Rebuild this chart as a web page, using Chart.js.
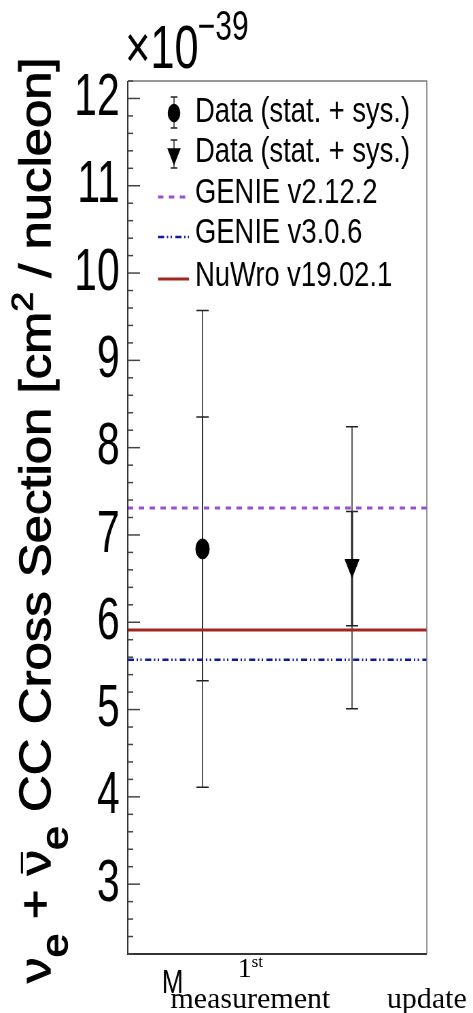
<!DOCTYPE html>
<html>
<head>
<meta charset="utf-8">
<script src="https://cdn.jsdelivr.net/npm/chart.js@4/dist/chart.umd.min.js"></script>
<style>
  html, body { margin: 0; padding: 0; background: #fff; overflow: hidden; }
  canvas { display: block; }
</style>
</head>
<body>
<canvas id="xsec" width="696" height="1013" style="width:473px;height:1013px"></canvas>
<script>
// the original plot is squeezed sideways, so draw wide and let CSS squeeze it
const K = 473 / 696;

const seriesNames = ['Data (stat. + sys.)', 'Data (stat. + sys.)', 'GENIE v2.12.2', 'GENIE v3.0.6', 'NuWro v19.02.1'];
const pointX = [0.5, 1.5];
const pointY = [6.84, 6.65];
const statHi = [8.35, 7.27];
const statLo = [5.33, 5.96];
const totHi = [9.57, 8.24];
const totLo = [4.11, 5.01];
const genieOld = 7.31;
const genieNew = 5.57;
const nuwro = 5.91;
const yRange = [2.2, 12.2];
const xRange = [0, 2];
const xLabels = ['M', '1st measurement', 'update'];
const xLabelAt = [0.3, 0.82, 2.0];

const SANS = '"Liberation Sans", Arial, sans-serif';
const SERIF = '"Liberation Serif", "Times New Roman", serif';

const flat = v => [{ x: xRange[0], y: v }, { x: xRange[1], y: v }];

function txt(ctx, s, x, y, font, sx, align) {
    ctx.save();
    ctx.font = font;
    ctx.fillStyle = '#000';
    ctx.textAlign = align || 'left';
    ctx.textBaseline = 'alphabetic';
    ctx.translate(x, y);
    ctx.scale(sx, 1);
    ctx.fillText(s, 0, 0);
    ctx.restore();
}

function errBar(ctx, x, lo, hi, half, lw) {
    ctx.lineWidth = lw;
    ctx.beginPath();
    ctx.moveTo(x, lo); ctx.lineTo(x, hi);
    ctx.stroke();
    ctx.lineWidth = 1.5;
    ctx.beginPath();
    ctx.moveTo(x - half, lo); ctx.lineTo(x + half, lo);
    ctx.moveTo(x - half, hi); ctx.lineTo(x + half, hi);
    ctx.stroke();
}

function drawTitle(ctx) {
    const parts = [
        { t: '\u03BD', k: 1, dy: 0 },
        { t: 'e', k: 0.85, dy: 0.39 },
        { t: ' + ', k: 1, dy: 0 },
        { t: '\u03BD', k: 1, dy: 0, bar: true },
        { t: 'e', k: 0.85, dy: 0.39 },
        { t: ' CC Cross Section [cm', k: 1, dy: 0 },
        { t: '2', k: 0.69, dy: -0.39 },
        { t: ' / nucleon]', k: 1, dy: 0 }
    ];
    ctx.save();
    ctx.translate(50 / K, 983);
    ctx.scale(0.86 / K, 1);
    ctx.rotate(-Math.PI / 2);
    let s = 50, total = 0;
    parts.forEach(p => { ctx.font = `${p.k * s}px ${SANS}`; total += ctx.measureText(p.t).width; });
    s = s * 926 / total;
    ctx.fillStyle = '#000';
    ctx.strokeStyle = '#000';
    ctx.textBaseline = 'alphabetic';
    let x = 0;
    parts.forEach(p => {
        ctx.font = `${p.k * s}px ${SANS}`;
        const w = ctx.measureText(p.t).width;
        ctx.fillText(p.t, x, p.dy * s);
        // slightly heavier strokes, like the original
        ctx.lineWidth = 1.1;
        ctx.strokeText(p.t, x, p.dy * s);
        if (p.bar) {
            ctx.lineWidth = 2.5;
            ctx.beginPath();
            ctx.moveTo(x + 2, -0.64 * s); ctx.lineTo(x + w - 2, -0.64 * s);
            ctx.stroke();
        }
        x += w;
    });
    ctx.restore();
}

const rootStyle = {
    id: 'rootStyle',
    beforeDatasetsDraw(chart) {
        const ctx = chart.ctx, xs = chart.scales.x, ys = chart.scales.y;
        ctx.save();
        ctx.strokeStyle = '#222';
        pointX.forEach((v, i) => {
            const x = xs.getPixelForValue(v);
            errBar(ctx, x, ys.getPixelForValue(totLo[i]), ys.getPixelForValue(totHi[i]), 9, 1.5);
            errBar(ctx, x, ys.getPixelForValue(statLo[i]), ys.getPixelForValue(statHi[i]), 9, i === 1 ? 3 : 1.5);
        });
        ctx.restore();
    },
    afterDraw(chart) {
        const ctx = chart.ctx, a = chart.chartArea, xs = chart.scales.x, ys = chart.scales.y;
        ctx.save();

        // frame
        ctx.strokeStyle = '#777';
        ctx.lineWidth = 1.5;
        ctx.beginPath();
        ctx.moveTo(a.left, a.top); ctx.lineTo(a.right, a.top); ctx.lineTo(a.right, a.bottom);
        ctx.stroke();
        ctx.strokeStyle = '#333';
        ctx.lineWidth = 2;
        ctx.beginPath();
        ctx.moveTo(a.left, a.top); ctx.lineTo(a.left, a.bottom); ctx.lineTo(a.right, a.bottom);
        ctx.stroke();

        // inward ticks, major on integers
        ctx.strokeStyle = '#444';
        ctx.lineWidth = 1.5;
        ys.ticks.forEach(t => {
            const major = Math.abs(t.value - Math.round(t.value)) < 1e-6;
            const y = ys.getPixelForValue(t.value);
            ctx.beginPath();
            ctx.moveTo(a.left, y); ctx.lineTo(a.left + (major ? 18 : 8), y);
            ctx.stroke();
        });

        // exponent
        txt(ctx, '\u00D710', 184, 68, `62px ${SANS}`, 1.03);
        txt(ctx, '\u221239', 291, 40, `42px ${SANS}`, 1.05);

        // legend
        const ds = chart.data.datasets;
        const symY = [113, 154, 197, 237, 279];
        const baseY = [122, 162, 203, 243, 286];
        const mx = 174 / K, l0 = 158 / K, l1 = 189 / K;
        ds.forEach((d, i) => {
            const y = symY[i];
            ctx.save();
            if (i < 2) {
                ctx.strokeStyle = '#222';
                const span = i === 0 ? [97, 128] : [140, 168];
                errBar(ctx, mx, span[0], span[1], 5, 1.5);
                ctx.fillStyle = '#000';
                ctx.strokeStyle = '#000';
                Chart.helpers.drawPoint(ctx, {
                    pointStyle: d.pointStyle, rotation: d.pointRotation || 0,
                    radius: i === 0 ? 8.5 : 10, borderWidth: 1
                }, mx, y);
            } else {
                ctx.strokeStyle = d.borderColor;
                ctx.lineWidth = d.borderWidth;
                ctx.setLineDash(d.borderDash || []);
                ctx.beginPath();
                ctx.moveTo(l0, y); ctx.lineTo(l1, y);
                ctx.stroke();
            }
            ctx.restore();
            txt(ctx, d.label, 195 / K, baseY[i], `35px ${SANS}`, 1.15);
        });

        // x labels
        const serifSx = 1 / K;
        txt(ctx, xLabels[0], xs.getPixelForValue(xLabelAt[0]), 993, `33px ${SANS}`, 1.16, 'center');
        const [first, second] = xLabels[1].split(' ');
        const num = first.replace(/\D/g, ''), sup = first.replace(/\d/g, '');
        const cx = xs.getPixelForValue(xLabelAt[1]);
        ctx.font = `28px ${SERIF}`;
        const wn = ctx.measureText(num).width * serifSx;
        ctx.font = `17px ${SERIF}`;
        const ws = ctx.measureText(sup).width * serifSx;
        txt(ctx, num, cx - (wn + ws) / 2, 977, `28px ${SERIF}`, serifSx);
        txt(ctx, sup, cx - (wn + ws) / 2 + wn, 967, `17px ${SERIF}`, serifSx);
        txt(ctx, second, cx, 1008, `30px ${SERIF}`, serifSx, 'center');
        txt(ctx, xLabels[2], xs.getPixelForValue(xLabelAt[2]), 1008, `30px ${SERIF}`, serifSx, 'center');

        drawTitle(ctx);
        ctx.restore();
    }
};

new Chart(document.getElementById('xsec'), {
    type: 'scatter',
    data: {
        datasets: [
            {
                label: seriesNames[0],
                data: [{ x: pointX[0], y: pointY[0] }],
                pointStyle: 'circle', pointRadius: 10, pointHoverRadius: 10,
                backgroundColor: '#000', borderColor: '#000', showLine: false
            },
            {
                label: seriesNames[1],
                data: [{ x: pointX[1], y: pointY[1] }],
                pointStyle: 'triangle', pointRotation: 180, pointRadius: 12, pointHoverRadius: 12,
                backgroundColor: '#000', borderColor: '#000', showLine: false
            },
            {
                label: seriesNames[2],
                data: flat(genieOld),
                showLine: true, pointRadius: 0,
                borderColor: '#9a4fd0', borderWidth: 3, borderDash: [8, 8]
            },
            {
                label: seriesNames[3],
                data: flat(genieNew),
                showLine: true, pointRadius: 0,
                borderColor: '#0c1a9e', borderWidth: 2.5, borderDash: [9, 4, 2, 3.5, 2, 5]
            },
            {
                label: seriesNames[4],
                data: flat(nuwro),
                showLine: true, pointRadius: 0,
                borderColor: '#a3261e', borderWidth: 3
            }
        ]
    },
    options: {
        responsive: false,
        devicePixelRatio: 1,
        animation: false,
        events: [],
        layout: { padding: { top: 81, right: 68, left: 0, bottom: 0 } },
        plugins: { legend: { display: false }, tooltip: { enabled: false } },
        scales: {
            x: {
                type: 'linear', min: xRange[0], max: xRange[1],
                grid: { display: false, drawTicks: false },
                border: { display: false },
                ticks: { display: false },
                afterFit: s => { s.height = 59; }
            },
            y: {
                type: 'linear', min: yRange[0], max: yRange[1],
                grid: { display: false, drawTicks: false },
                border: { display: false },
                ticks: {
                    stepSize: 0.2, autoSkip: false, padding: 12, color: '#000',
                    font: { family: SANS, size: 60 },
                    callback: v => Math.abs(v - Math.round(v)) < 1e-6 ? String(Math.round(v)) : ''
                },
                afterFit: s => { s.width = 188; }
            }
        }
    },
    plugins: [rootStyle]
});
</script>
</body>
</html>
